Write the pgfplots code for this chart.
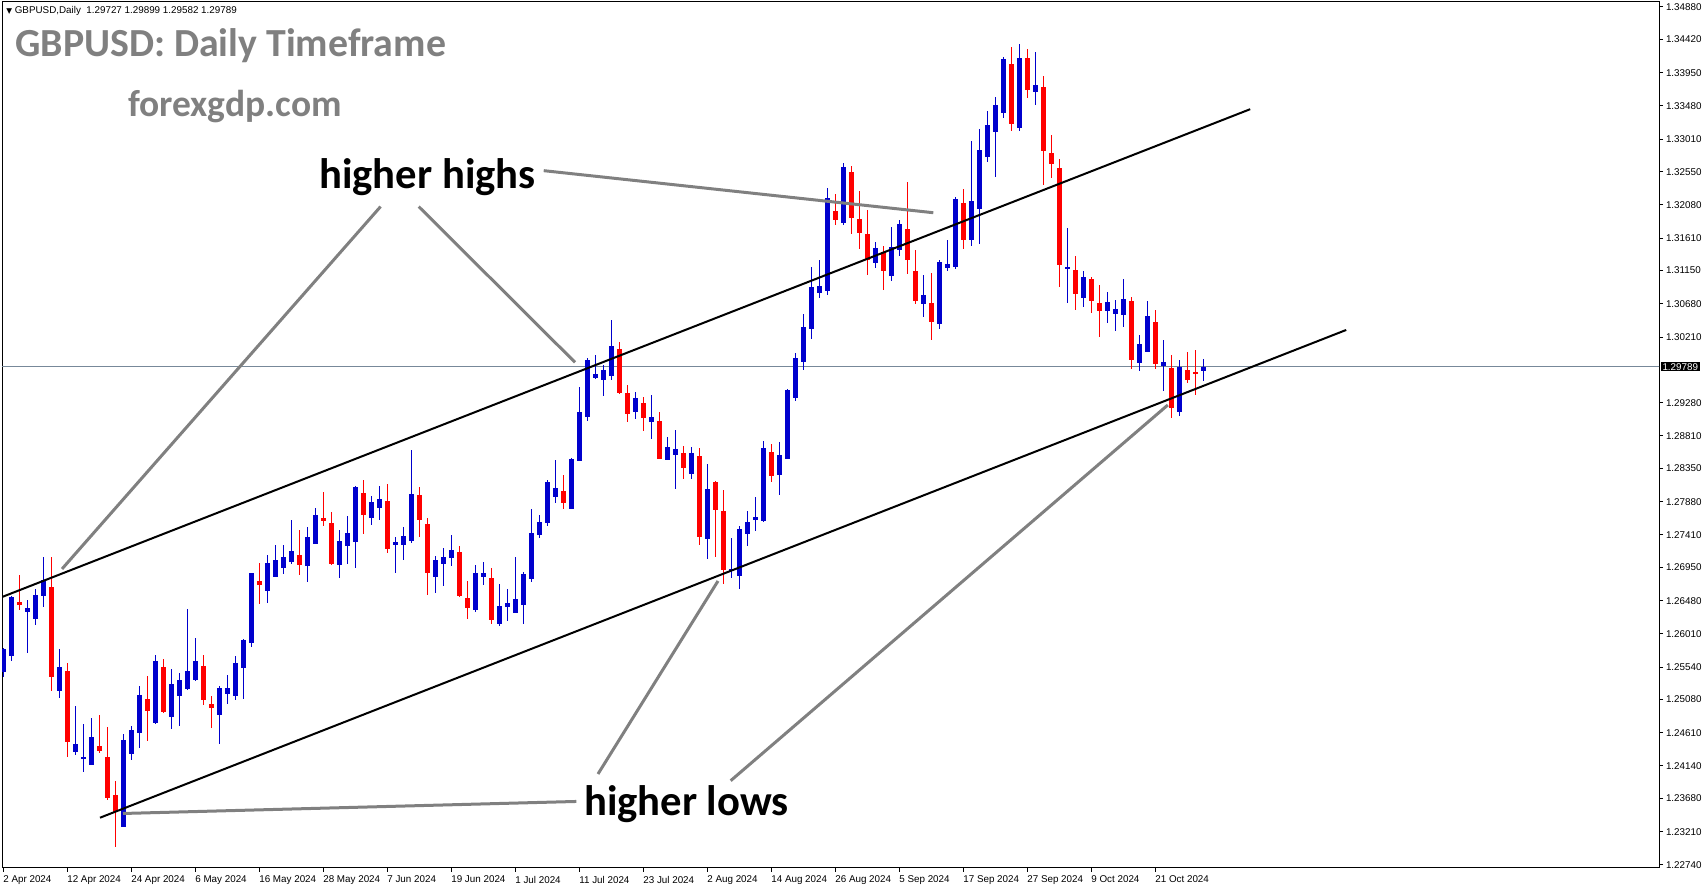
\documentclass[border=0pt]{standalone}
\usepackage{fontspec}
\setmainfont{Liberation Sans}
\newfontfamily\calibri{Carlito}
\newfontfamily\dejavu{DejaVu Sans}
\usepackage{pgfplots}
\usepackage{pgfplotstable}
\pgfplotsset{compat=1.18}

\definecolor{cbull}{RGB}{0,0,205}
\definecolor{cbear}{RGB}{255,0,0}
\definecolor{annot}{RGB}{128,128,128}
\definecolor{ttl}{RGB}{128,128,128}
\definecolor{pline}{RGB}{119,136,153}
\newcommand\ticfont{\fontsize{5.9}{7}\selectfont}

% i open high low close
\pgfplotstableread{
i o h l c
0 1.25474 1.25805 1.25394 1.25790
1 1.25701 1.26545 1.25630 1.26536
3 1.26323 1.26488 1.25743 1.26375
4 1.26224 1.26644 1.26139 1.26554
5 1.26550 1.27092 1.26394 1.26767
7 1.25205 1.25795 1.25106 1.25540
9 1.24342 1.24988 1.24295 1.24451
10 1.24243 1.24734 1.24059 1.24271
11 1.24158 1.24819 1.24158 1.24550
15 1.23281 1.24592 1.23281 1.24507
16 1.24314 1.24705 1.24229 1.24649
17 1.24611 1.25271 1.24399 1.25144
19 1.24748 1.25710 1.24738 1.25625
21 1.24837 1.25512 1.24668 1.25300
22 1.25135 1.25460 1.24705 1.25356
23 1.25229 1.26361 1.25215 1.25484
24 1.25356 1.25955 1.25347 1.25625
27 1.24862 1.25272 1.24451 1.25244
28 1.25159 1.25428 1.25017 1.25244
29 1.25130 1.25696 1.25074 1.25597
30 1.25527 1.25937 1.25093 1.25923
31 1.25885 1.26871 1.25829 1.26871
33 1.26616 1.27126 1.26446 1.27012
34 1.26819 1.27267 1.26819 1.27055
35 1.26942 1.27267 1.26857 1.27097
36 1.27027 1.27621 1.26998 1.27182
38 1.26970 1.27522 1.26744 1.27380
39 1.27281 1.27791 1.27281 1.27692
42 1.26984 1.27479 1.26800 1.27324
43 1.27253 1.27678 1.26998 1.27437
44 1.27310 1.28102 1.26942 1.28088
46 1.27649 1.27961 1.27550 1.27876
47 1.27791 1.28102 1.27621 1.27918
49 1.27267 1.27380 1.26871 1.27310
50 1.27267 1.27522 1.27055 1.27395
51 1.27323 1.28611 1.27295 1.27988
54 1.26814 1.27111 1.26587 1.27054
55 1.26998 1.27224 1.26686 1.27097
56 1.27083 1.27408 1.26969 1.27196
59 1.26347 1.26984 1.26318 1.26870
60 1.26814 1.27026 1.26700 1.26870
62 1.26153 1.26715 1.26125 1.26403
63 1.26389 1.26644 1.26196 1.26446
64 1.26309 1.27097 1.26309 1.26502
65 1.26422 1.26884 1.26153 1.26856
66 1.26790 1.27776 1.26748 1.27436
67 1.27408 1.27691 1.27366 1.27592
68 1.27578 1.28186 1.27535 1.28158
69 1.27946 1.28469 1.27861 1.28073
71 1.27776 1.28498 1.27776 1.28484
72 1.28455 1.29502 1.28455 1.29149
73 1.29078 1.29913 1.29021 1.29884
74 1.29630 1.29955 1.29616 1.29686
75 1.29601 1.29814 1.29375 1.29743
76 1.29659 1.30451 1.29602 1.30083
79 1.29154 1.29432 1.29055 1.29348
81 1.29013 1.29390 1.28772 1.29079
83 1.28475 1.28800 1.28475 1.28654
84 1.28546 1.28895 1.28064 1.28626
86 1.28277 1.28654 1.28206 1.28569
88 1.27357 1.28414 1.27074 1.28060
91 1.26904 1.27366 1.26805 1.26932
92 1.26833 1.27536 1.26649 1.27494
93 1.27428 1.27748 1.27258 1.27593
94 1.27626 1.27947 1.27470 1.27664
95 1.27612 1.28739 1.27598 1.28640
97 1.28263 1.28725 1.27980 1.28541
98 1.28489 1.29475 1.28489 1.29461
99 1.29348 1.29984 1.29305 1.29914
100 1.29857 1.30536 1.29744 1.30352
101 1.30329 1.31201 1.30178 1.30918
102 1.30833 1.31300 1.30763 1.30932
103 1.30862 1.32319 1.30805 1.32178
105 1.31824 1.32673 1.31796 1.32616
109 1.31258 1.31555 1.31187 1.31470
111 1.31074 1.31767 1.31003 1.31484
112 1.31442 1.31866 1.31357 1.31810
115 1.30678 1.31088 1.30494 1.30805
117 1.30395 1.31300 1.30324 1.31272
118 1.31187 1.31583 1.31145 1.31244
119 1.31201 1.32192 1.31173 1.32163
121 1.31583 1.32984 1.31498 1.32135
122 1.32022 1.33154 1.31527 1.32857
123 1.32758 1.33409 1.32687 1.33211
124 1.33112 1.33607 1.32475 1.33494
125 1.33380 1.34173 1.33310 1.34145
127 1.33168 1.34357 1.33126 1.34159
129 1.33678 1.34244 1.33494 1.33777
133 1.31173 1.31753 1.30692 1.31201
135 1.30763 1.31145 1.30635 1.31060
138 1.30579 1.30847 1.30409 1.30706
139 1.30536 1.30734 1.30296 1.30607
140 1.30522 1.31031 1.30352 1.30748
142 1.29847 1.30239 1.29734 1.30112
143 1.30003 1.30720 1.30003 1.30508
145 1.29805 1.30168 1.29451 1.29857
147 1.29154 1.29885 1.29097 1.29791
150 1.29727 1.29899 1.29582 1.29789
}\bull

\pgfplotstableread{
i o h l c
2 1.26460 1.26842 1.26347 1.26418
6 1.26672 1.27092 1.25205 1.25403
8 1.25484 1.25602 1.24271 1.24484
12 1.24422 1.24861 1.24328 1.24356
13 1.24267 1.24691 1.23658 1.23682
14 1.23729 1.23927 1.22998 1.23493
18 1.25087 1.25413 1.24498 1.24922
20 1.25540 1.25654 1.24894 1.24908
25 1.25554 1.25710 1.25003 1.25073
26 1.25017 1.25130 1.24682 1.24965
32 1.26758 1.27012 1.26432 1.26701
37 1.27126 1.27479 1.26843 1.26984
40 1.27649 1.28017 1.27536 1.27607
41 1.27578 1.27734 1.26984 1.26998
45 1.28003 1.28187 1.27423 1.27692
48 1.27890 1.28130 1.27154 1.27211
52 1.27974 1.28087 1.27380 1.27620
53 1.27564 1.27649 1.26559 1.26870
57 1.27167 1.27252 1.26535 1.26550
58 1.26517 1.26757 1.26219 1.26375
61 1.26800 1.26941 1.26153 1.26210
70 1.28031 1.28257 1.27776 1.27861
77 1.30041 1.30140 1.29404 1.29418
78 1.29418 1.29532 1.29013 1.29126
80 1.29277 1.29362 1.28885 1.29069
82 1.29022 1.29149 1.28489 1.28489
85 1.28569 1.28668 1.28206 1.28362
87 1.28527 1.28640 1.27272 1.27385
89 1.28159 1.28173 1.27102 1.27767
90 1.27748 1.28046 1.26720 1.26918
96 1.28583 1.28697 1.28164 1.28249
104 1.31994 1.32234 1.31796 1.31866
106 1.32546 1.32630 1.31668 1.31895
107 1.31880 1.32277 1.31456 1.31682
108 1.31668 1.32008 1.31088 1.31300
110 1.31413 1.31498 1.30876 1.31145
113 1.31739 1.32404 1.31102 1.31300
114 1.31145 1.31442 1.30678 1.30720
116 1.30692 1.31116 1.30168 1.30423
120 1.32107 1.32305 1.31456 1.31583
126 1.34074 1.34314 1.33126 1.33225
128 1.34159 1.34286 1.33593 1.33706
130 1.33748 1.33904 1.32362 1.32843
131 1.32814 1.33069 1.32461 1.32659
132 1.32602 1.32730 1.30918 1.31229
134 1.31159 1.31357 1.30593 1.30819
136 1.31031 1.31060 1.30550 1.30720
137 1.30692 1.30946 1.30211 1.30579
141 1.30720 1.30777 1.29763 1.29885
144 1.30423 1.30593 1.29763 1.29833
146 1.29772 1.29956 1.29069 1.29211
148 1.29744 1.29998 1.29564 1.29607
149 1.29715 1.30027 1.29395 1.29692
}\bear

\pgfplotsset{
  candle/.style 2 args={draw=none, mark=none, forget plot,
    error bars/.cd, y dir=both, y explicit, error mark=none,
    error bar style={draw=#1, line width=#2}},
}

\begin{document}
\begin{tikzpicture}
\useasboundingbox (0,0) rectangle (1023pt,532.8pt);
\begin{axis}[
  at={(1.2pt,12pt)}, anchor=south west,
  scale only axis, width=994.2pt, height=519.6pt,
  xmin=-0.125, xmax=207, ymin=1.226965, ymax=1.349508,
  axis line style={line width=0.6pt},
  every tick/.style={black, line width=0.6pt},
  tick align=outside, major tick length=2.4pt,
  xtick pos=left, ytick pos=right, yticklabel pos=right,
  xtick={0,8,...,144},
  xticklabels={2 Apr 2024, 12 Apr 2024, 24 Apr 2024, 6 May 2024, 16 May 2024, 28 May 2024, 7 Jun 2024, 19 Jun 2024, 1 Jul 2024, 11 Jul 2024, 23 Jul 2024, 2 Aug 2024, 14 Aug 2024, 26 Aug 2024, 5 Sep 2024, 17 Sep 2024, 27 Sep 2024, 9 Oct 2024, 21 Oct 2024},
  ytick={1.34880,1.34420,1.33950,1.33480,1.33010,1.32550,1.32080,1.31610,1.31150,1.30680,1.30210,1.29280,1.28810,1.28350,1.27880,1.27410,1.26950,1.26480,1.26010,1.25540,1.25080,1.24610,1.24140,1.23680,1.23210,1.22740},
  yticklabels={1.34880,1.34420,1.33950,1.33480,1.33010,1.32550,1.32080,1.31610,1.31150,1.30680,1.30210,1.29280,1.28810,1.28350,1.27880,1.27410,1.26950,1.26480,1.26010,1.25540,1.25080,1.24610,1.24140,1.23680,1.23210,1.22740},
  xticklabel style={anchor=north west, inner sep=0pt, font=\ticfont, yshift=-2.2pt},
  yticklabel style={anchor=west, inner sep=0pt, font=\ticfont, xshift=1.6pt},
]
% current price line
\addplot[pline, line width=0.6pt, forget plot] coordinates {(-1,1.29789) (210,1.29789)};

% wicks and bodies
\addplot[candle={cbull}{0.6pt}] table[x=i, y expr={(\thisrow{h}+\thisrow{l})/2}, y error expr={(\thisrow{h}-\thisrow{l})/2}] {\bull};
\addplot[candle={cbull}{3pt}] table[x=i, y expr={(\thisrow{o}+\thisrow{c})/2}, y error expr={max(abs(\thisrow{c}-\thisrow{o})/2,0.00007)}] {\bull};
\addplot[candle={cbear}{0.6pt}] table[x=i, y expr={(\thisrow{h}+\thisrow{l})/2}, y error expr={(\thisrow{h}-\thisrow{l})/2}] {\bear};
\addplot[candle={cbear}{3pt}] table[x=i, y expr={(\thisrow{o}+\thisrow{c})/2}, y error expr={max(abs(\thisrow{c}-\thisrow{o})/2,0.00007)}] {\bear};

% channel lines
\addplot[black, line width=1.2pt] coordinates {(-0.125,1.26531) (155.9,1.33434)};
\addplot[black, line width=1.2pt] coordinates {(12.125,1.23408) (167.9,1.30310)};

% annotation pointers
\addplot[annot, line width=1.8pt] coordinates {(47.2,1.32056) (7.375,1.26928)};
\addplot[annot, line width=1.8pt] coordinates {(51.96,1.32056) (71.5,1.29852)};
\addplot[annot, line width=1.8pt] coordinates {(67.59,1.32564) (116.29,1.31969)};
\addplot[annot, line width=1.8pt] coordinates {(71.66,1.23638) (15.0,1.23468)};
\addplot[annot, line width=1.8pt] coordinates {(74.375,1.24027) (89.375,1.26758)};
\addplot[annot, line width=1.8pt] coordinates {(90.96,1.23932) (145.6,1.29248)};

\node[anchor=base west, inner sep=0pt, font=\fontsize{25.6}{28}\calibri\bfseries] at (axis cs:39.5,1.32305) {higher highs};
\node[anchor=base west, inner sep=0pt, font=\fontsize{25.6}{28}\calibri\bfseries] at (axis cs:72.6,1.23439) {higher lows};
\node[anchor=base west, inner sep=0pt, text=ttl, font=\fontsize{23.9}{26}\calibri\bfseries] at (axis cs:1.5,1.34173) {GBPUSD: Daily Timeframe};
\node[anchor=base west, inner sep=0pt, text=ttl, font=\fontsize{22.5}{24}\calibri\bfseries] at (axis cs:15.6,1.33334) {forexgdp.com};
\node[anchor=base west, inner sep=0pt, font=\ticfont] at (axis cs:0.375,1.34791) {{\dejavu\fontsize{4.5}{5}\selectfont ▼}\ GBPUSD,Daily\ \ 1.29727 1.29899 1.29582 1.29789};

\coordinate (pl) at (axis cs:207,1.29789);
\end{axis}
\node[anchor=west, fill=black, text=white, inner xsep=0.9pt, inner ysep=0.7pt, font=\ticfont, xshift=1pt] at (pl) {1.29789};
\end{tikzpicture}
\end{document}
